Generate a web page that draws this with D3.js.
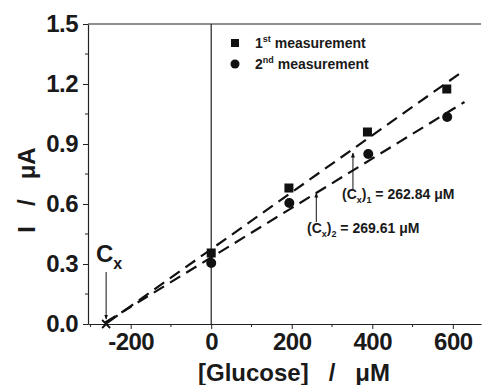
<!DOCTYPE html>
<html>
<head>
<meta charset="utf-8">
<script src="https://cdn.jsdelivr.net/npm/d3@7"></script>
<style>
  body { margin: 0; background: #fff; }
  svg { display: block; font-family: "Liberation Sans", Arial, sans-serif; font-weight: bold; }
</style>
</head>
<body>
<div class="chart"></div>
<script>
// data
const glucose1 = [0, 193, 388, 585];
const current1 = [0.355, 0.68, 0.96, 1.175];
const glucose2 = [0, 194, 390, 586];
const current2 = [0.305, 0.605, 0.85, 1.035];
// standard addition fits: x-intercept (Cx) and end of the dashed line
const fitCx = [-262.84, -269.61];
const fitEnd = [[626, 1.265], [629, 1.11]];
const xTicks = [-200, 0, 200, 400, 600];
const yTicks = [0.0, 0.3, 0.6, 0.9, 1.2, 1.5];

const W = 483, H = 385;
const Margin = {top: 24, bottom: 61, left: 88, right: 2};

const svg = d3.select('.chart').append('svg')
  .attr('width', W).attr('height', H);

const x = d3.scaleLinear().domain([-306, 670]).range([Margin.left, W - Margin.right]);
const y = d3.scaleLinear().domain([0, 1.5]).range([H - Margin.bottom, Margin.top]);

// frame (top line)
svg.append('line')
  .attr('x1', x.range()[0]).attr('x2', x.range()[1])
  .attr('y1', y(1.5)).attr('y2', y(1.5))
  .attr('stroke', '#222').attr('stroke-width', 1.2);

// vertical line at x = 0
svg.append('line')
  .attr('x1', x(0)).attr('x2', x(0))
  .attr('y1', y(1.5)).attr('y2', y(0))
  .attr('stroke', '#222').attr('stroke-width', 1.2);

// x axis (hyphen minus like the original)
const xAxisG = svg.append('g')
  .attr('transform', `translate(0,${y(0)})`)
  .call(d3.axisBottom(x).tickValues(xTicks).tickFormat(d => String(d)).tickSize(5).tickSizeOuter(0).tickPadding(4));
xAxisG.append('g').selectAll('line')
  .data([-300, -100, 100, 300, 500])
  .join('line')
  .attr('x1', d => x(d)).attr('x2', d => x(d))
  .attr('y1', 0).attr('y2', 3)
  .attr('stroke', '#222');

// y axis
const yAxisG = svg.append('g')
  .attr('transform', `translate(${Margin.left},0)`)
  .call(d3.axisLeft(y).tickValues(yTicks).tickFormat(d3.format('.1f')).tickSize(5).tickSizeOuter(0).tickPadding(5));
yAxisG.append('g').selectAll('line')
  .data([0.15, 0.45, 0.75, 1.05, 1.35])
  .join('line')
  .attr('x1', 0).attr('x2', -3)
  .attr('y1', d => y(d)).attr('y2', d => y(d))
  .attr('stroke', '#222');

svg.selectAll('.domain').attr('stroke', '#222').attr('stroke-width', 1.2);
svg.selectAll('.tick line').attr('stroke', '#222');
svg.selectAll('.tick text')
  .style('font-size', '24px').style('font-weight', 'bold')
  .attr('fill', '#1a1a1a').style('letter-spacing', '-0.5px');

// fitted dashed lines
fitCx.forEach((c, i) => {
  svg.append('line')
    .attr('x1', x(c)).attr('y1', y(0))
    .attr('x2', x(fitEnd[i][0])).attr('y2', y(fitEnd[i][1]))
    .attr('stroke', '#111').attr('stroke-width', 2.2)
    .attr('stroke-dasharray', '12,7')
    .attr('stroke-dashoffset', -3);
});

// markers
svg.append('g').selectAll('rect')
  .data(glucose1.map((g, i) => [g, current1[i]]))
  .join('rect')
  .attr('x', d => x(d[0]) - 4.5).attr('y', d => y(d[1]) - 4.5)
  .attr('width', 9).attr('height', 9)
  .attr('fill', '#111');
svg.append('g').selectAll('circle')
  .data(glucose2.map((g, i) => [g, current2[i]]))
  .join('circle')
  .attr('cx', d => x(d[0])).attr('cy', d => y(d[1]))
  .attr('r', 5).attr('fill', '#111');

// Cx marker (cross) on the x axis
const cxPos = x(-261);
svg.append('path')
  .attr('d', `M${cxPos - 4},${y(0) - 4}L${cxPos + 4},${y(0) + 4}M${cxPos - 4},${y(0) + 4}L${cxPos + 4},${y(0) - 4}`)
  .attr('stroke', '#111').attr('stroke-width', 1.8);

// arrows
svg.append('defs').append('marker')
  .attr('id', 'arr').attr('viewBox', '0 0 10 10')
  .attr('refX', 9).attr('refY', 5)
  .attr('markerWidth', 5).attr('markerHeight', 6)
  .attr('orient', 'auto')
  .append('path').attr('d', 'M0,1L10,5L0,9Z').attr('fill', '#111');

const arrows = [
  [cxPos, 272, cxPos, y(0) - 5],
  [x(352), 190, x(352), 153],
  [x(261), 222, x(261), 193]
];
arrows.forEach(a => {
  svg.append('line')
    .attr('x1', a[0]).attr('y1', a[1]).attr('x2', a[2]).attr('y2', a[3])
    .attr('stroke', '#111').attr('stroke-width', 1)
    .attr('marker-end', 'url(#arr)');
});

// Cx label
const cxLabel = svg.append('text')
  .attr('x', 96).attr('y', 262)
  .style('font-size', '24px').attr('fill', '#1a1a1a');
cxLabel.append('tspan').text('C');
cxLabel.append('tspan').attr('dy', 7).style('font-size', '16px').text('x');

// annotation labels
function cxAnno(px, py, sub, val) {
  const t = svg.append('text').attr('x', px).attr('y', py)
    .style('font-size', '14px').attr('fill', '#1a1a1a');
  t.append('tspan').text('(C');
  t.append('tspan').attr('dy', 4).style('font-size', '9px').text('x');
  t.append('tspan').attr('dy', -4).text(')');
  t.append('tspan').attr('dy', 4).style('font-size', '9px').text(sub);
  t.append('tspan').attr('dy', -4).text(` = ${val} \u03bcM`);
}
cxAnno(342, 199, '1', '262.84');
cxAnno(307, 233, '2', '269.61');

// legend
const legend = svg.append('g').style('font-size', '14px');
legend.append('rect').attr('x', 231).attr('y', 39).attr('width', 8).attr('height', 8).attr('fill', '#111');
legend.append('circle').attr('cx', 235).attr('cy', 64).attr('r', 4.5).attr('fill', '#111');
const l1 = legend.append('text').attr('x', 255).attr('y', 48).attr('fill', '#1a1a1a');
l1.append('tspan').text('1');
l1.append('tspan').attr('dy', -6).style('font-size', '9px').text('st');
l1.append('tspan').attr('dy', 6).text(' measurement');
const l2 = legend.append('text').attr('x', 255).attr('y', 69).attr('fill', '#1a1a1a');
l2.append('tspan').text('2');
l2.append('tspan').attr('dy', -6).style('font-size', '9px').text('nd');
l2.append('tspan').attr('dy', 6).text(' measurement');

// axis titles
svg.append('text')
  .attr('x', 294).attr('y', 381)
  .attr('text-anchor', 'middle')
  .style('font-size', '24px').attr('fill', '#1a1a1a')
  .attr('xml:space', 'preserve')
  .text('[Glucose]   /   \u03bcM');
svg.append('text')
  .attr('transform', `translate(35,190) rotate(-90)`)
  .attr('text-anchor', 'middle')
  .style('font-size', '24px').attr('fill', '#1a1a1a')
  .attr('xml:space', 'preserve')
  .text('I   /   \u03bcA');
</script>
</body>
</html>
